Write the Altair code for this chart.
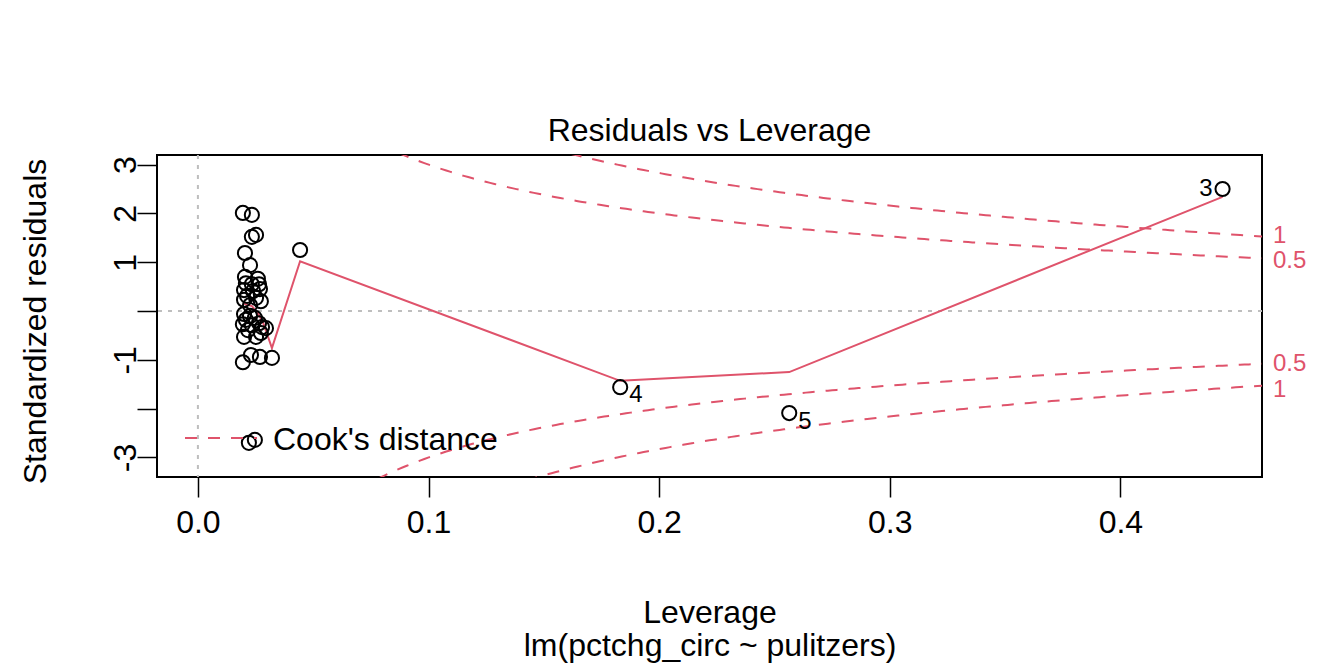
import altair as alt
import numpy as np
import pandas as pd

FONT = "Liberation Sans"
RED = "#DF536B"

# ---- data ----
leverage = [
    0.0195, 0.0234, 0.0234, 0.0252, 0.0204, 0.0226,
    0.0204, 0.0260, 0.0208, 0.0234, 0.0265, 0.0200, 0.0239, 0.0269, 0.0213, 0.0252, 0.0200, 0.0273, 0.0226,
    0.0200, 0.0226, 0.0208, 0.0247, 0.0195, 0.0234, 0.0265, 0.0217, 0.0278, 0.0295, 0.0200, 0.0252, 0.0273,
    0.0195, 0.0230, 0.0269,
    0.0321, 0.0443, 0.0221, 0.0247, 0.1831, 0.2564, 0.4443,
]
std_resid = [
    2.01, 1.97, 1.52, 1.56, 1.19, 0.94,
    0.70, 0.66, 0.57, 0.55, 0.55, 0.43, 0.41, 0.45, 0.31, 0.27, 0.23, 0.20, 0.12,
    -0.06, -0.10, -0.18, -0.14, -0.27, -0.29, -0.25, -0.39, -0.33, -0.35, -0.53, -0.53, -0.45,
    -1.05, -0.90, -0.94,
    -0.96, 1.25, -2.70, -2.64, -1.56, -2.09, 2.50,
]

# labelled observations
id_lev = [0.4443, 0.1831, 0.2564]
id_res = [2.50, -1.56, -2.09]
id_lab = ["3", "4", "5"]
id_dx = [-10, 9, 9]
id_dy = [0, 8, 9]
id_align = ["right", "left", "left"]

# smoother (red line)
smooth_lev = [0.0195, 0.0234, 0.0260, 0.0282, 0.0321, 0.0443, 0.1831, 0.2564, 0.4443]
smooth_res = [0.16, 0.10, -0.04, -0.23, -0.76, 1.02, -1.43, -1.25, 2.34]

# Cook's distance levels and number of model parameters
cook_levels = [0.5, 1.0]
n_params = 2

x_ticks = [0.0, 0.1, 0.2, 0.3, 0.4]
y_ticks = [-3, -2, -1, 0, 1, 2, 3]

X_MIN, X_MAX = -0.01774, 0.4614
Y_MIN, Y_MAX = -3.40, 3.197

W, H = 1105, 322

pts = pd.DataFrame({"h": leverage, "r": std_resid})
ids = pd.DataFrame({"h": id_lev, "r": id_res, "lab": id_lab})
smooth = pd.DataFrame({"h": smooth_lev, "r": smooth_res})

# Cook's distance contour curves: r = +/- sqrt(D * p * (1 - h) / h)
hh = np.linspace(0.005, X_MAX, 241)
rows = []
lab_rows = []
for D in cook_levels:
    for s in (1, -1):
        key = f"{D}_{s}"
        for h in hh:
            rows.append({"h": h, "r": s * np.sqrt(D * n_params * (1 - h) / h), "k": key})
        # outer label of each pair nudged slightly away from the inner one
        outer = (D == 1)
        nudge = (0 if outer else 3) if s == 1 else (4 if outer else 0)
        lab_rows.append({"h": X_MAX, "r": s * np.sqrt(D * n_params * (1 - X_MAX) / X_MAX),
                         "lab": ("1" if D == 1 else "0.5"), "dy": nudge})
cook = pd.DataFrame(rows)
cook_lab = pd.DataFrame(lab_rows)

xs = alt.Scale(domain=[X_MIN, X_MAX], nice=False, zero=False)
ys = alt.Scale(domain=[Y_MIN, Y_MAX], nice=False, zero=False)

x_axis = alt.Axis(
    values=x_ticks, format=".1f", title=["Leverage", "lm(pctchg_circ ~ pulitzers)"],
    titleLineHeight=33, titleBaseline="top", titleX=W / 2, titleY=120, titleAlign="center",
    labelPadding=10, labelBaseline="top",
)
y_axis = alt.Axis(
    values=y_ticks, title="Standardized residuals",
    labelExpr="datum.value == 0 || datum.value == -2 ? '' : '' + datum.value",
    labelAngle=-90, labelAlign="center", labelBaseline="alphabetic", labelPadding=2,
    titleAngle=-90, titleX=-122, titleY=H / 2 + 5, titleBaseline="middle", titleAlign="center",
)

base_x = alt.X("h:Q", scale=xs, axis=x_axis)
base_y = alt.Y("r:Q", scale=ys, axis=y_axis)

zero_df = pd.DataFrame({"v": [0]})
hline = alt.Chart(zero_df).mark_rule(color="#BEBEBE", strokeDash=[4, 6], strokeWidth=2).encode(
    y=alt.Y("v:Q", scale=ys, axis=y_axis)
)
vline = alt.Chart(zero_df).mark_rule(color="#BEBEBE", strokeDash=[4, 6], strokeWidth=2).encode(
    x=alt.X("v:Q", scale=xs, axis=x_axis)
)

cook_lines = alt.Chart(cook).mark_line(color=RED, strokeDash=[12, 11], strokeWidth=2, clip=True).encode(
    x=base_x, y=base_y, detail="k:N", order="h:Q"
)

smooth_line = alt.Chart(smooth).mark_line(color=RED, strokeWidth=2).encode(x=base_x, y=base_y, order="h:Q")

points = alt.Chart(pts).mark_point(shape="circle", filled=False, color="black", size=200, strokeWidth=2, opacity=1).encode(
    x=base_x, y=base_y
)

id_text = alt.layer(*[
    alt.Chart(ids.iloc[[i]]).mark_text(fontSize=24, font=FONT, color="black", align=id_align[i],
                                       baseline="middle", dx=id_dx[i], dy=id_dy[i]).encode(
        x=base_x, y=base_y, text="lab:N")
    for i in range(len(ids))
])

cook_text = alt.layer(*[
    alt.Chart(cook_lab.iloc[[i]]).mark_text(fontSize=24, font=FONT, color=RED, align="left",
                                            baseline="middle", dx=11, dy=int(cook_lab["dy"].iloc[i])).encode(
        x=base_x, y=base_y, text="lab:N")
    for i in range(len(cook_lab))
])

legend_line = alt.Chart(zero_df).mark_rule(color=RED, strokeDash=[12, 11], strokeWidth=2).encode(
    x=alt.value(28), x2=alt.value(100), y=alt.value(283)
)
legend_text = alt.Chart(zero_df).mark_text(fontSize=32, font=FONT, color="black", align="left",
                                           baseline="middle").encode(
    x=alt.value(116), y=alt.value(285), text=alt.value("Cook's distance")
)

chart = alt.layer(
    hline, vline, cook_lines, smooth_line, points, id_text, cook_text, legend_line, legend_text
).properties(
    width=W, height=H,
    title=alt.TitleParams("Residuals vs Leverage", fontSize=32, fontWeight="normal", font=FONT,
                          anchor="middle", baseline="alphabetic", offset=13, dy=32, color="black"),
    padding={"left": 149, "top": 147, "right": 70, "bottom": 190},
    autosize=alt.AutoSizeParams(type="none"),
).configure_view(
    stroke="black", strokeWidth=2
).configure_axis(
    domain=False, grid=False, tickColor="black", tickSize=20, tickWidth=1.5,
    labelFont=FONT, labelFontSize=32, labelColor="black",
    titleFont=FONT, titleFontSize=32, titleFontWeight="normal", titleColor="black",
)

chart.save("out.html", embed_options={"renderer": "svg", "actions": False})
